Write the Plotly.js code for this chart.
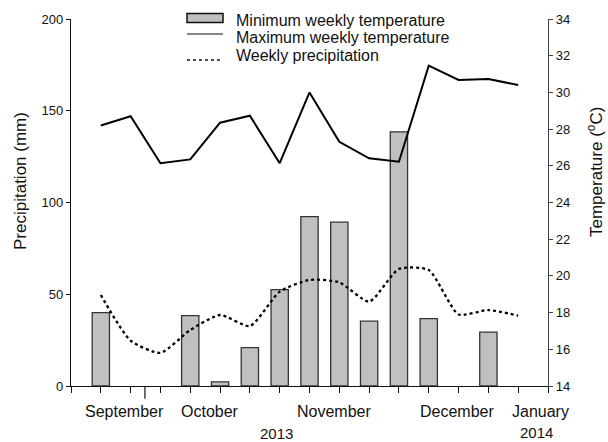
<!DOCTYPE html>
<html>
<head>
<meta charset="utf-8">
<script src="https://cdn.plot.ly/plotly-3.0.1.min.js"></script>
<style>html,body{margin:0;padding:0;background:#fff;}#chart{width:608px;height:442px;}</style>
</head>
<body>
<div id="chart"></div>
<script>
// ---- data ----
const weeks = [1, 2, 3, 4, 5, 6, 7, 8, 9, 10, 11, 12, 13, 14, 15];
const minWeeklyTemp = [40, null, null, 38.3, 2.2, 20.9, 52.5, 92.3, 89.3, 35.3, 138.5, 36.7, null, 29.4, null]; // bars, left axis
const maxWeeklyTemp = [28.2, 28.7, 26.14, 26.35, 28.35, 28.73, 26.14, 30.0, 27.31, 26.41, 26.22, 31.46, 30.68, 30.73, 30.4];
const weeklyPrecip = [18.96, 16.47, 15.81, 17.05, 17.87, 17.27, 19.14, 19.78, 19.65, 18.6, 20.38, 20.32, 17.9, 18.14, 17.83];
const seriesNames = ['Minimum weekly temperature', 'Maximum weekly temperature', 'Weekly precipitation'];
const monthLabels = ['September', 'October', 'November', 'December', 'January'];
const yearLabels = ['2013', '2014'];
const weekTicks = [0, 1, 2, 3, 4, 5, 6, 7, 8, 9, 10, 11, 12, 13, 14, 15, 16];
const leftTicks = [0, 50, 100, 150, 200];
const rightTicks = [14, 16, 18, 20, 22, 24, 26, 28, 30, 32, 34];
const leftTitle = 'Precipitation (mm)';
const rightTitle = 'Temperature (<sup>o</sup>C)';

// ---- layout constants (positions / styles) ----
const monthPos = [1.81, 4.66, 8.83, 12.95, 15.74];
const yearPos = [6.88, 15.6];
const boundaryTick = 2.48;
const FONT = 'Arial, "Liberation Sans", Helvetica, sans-serif';
const PL = 71, PT = 19, PW = 477, PH = 367;   // plot area in pixels
const px = v => (v - PL) / PW;                 // pixel x -> paper
const py = v => (PT + PH - v) / PH;            // pixel y -> paper

const traces = [
  {
    type: 'bar', x: weeks, y: minWeeklyTemp, name: seriesNames[0], yaxis: 'y',
    width: 0.58,
    marker: {color: '#c0c0c0', line: {color: '#333333', width: 1.3}}
  },
  {
    type: 'scatter', mode: 'lines', x: weeks, y: maxWeeklyTemp, name: seriesNames[1], yaxis: 'y2',
    line: {color: '#000000', width: 2}
  },
  {
    type: 'scatter', mode: 'lines', x: weeks, y: weeklyPrecip, name: seriesNames[2], yaxis: 'y2',
    line: {color: '#000000', width: 2.3, dash: 'dot', shape: 'spline', smoothing: 0.6}
  }
];

const txtFont = {family: FONT, size: 16, color: '#111'};
const annotations = monthLabels.map((t, i) => ({
  text: t, x: monthPos[i], xref: 'x', y: py(411), yref: 'paper',
  yanchor: 'middle', showarrow: false, font: txtFont
}));
annotations.push({
  text: yearLabels[0], x: yearPos[0], xref: 'x', y: py(433), yref: 'paper',
  yanchor: 'middle', showarrow: false, font: {family: FONT, size: 15, color: '#111'}
});
annotations.push({
  text: yearLabels[1], x: yearPos[1], xref: 'x', y: py(432), yref: 'paper',
  yanchor: 'middle', showarrow: false, font: {family: FONT, size: 15, color: '#111'}
});
// axis titles
annotations.push({
  text: leftTitle, x: px(20), xref: 'paper', y: py(181), yref: 'paper',
  xanchor: 'center', yanchor: 'middle', textangle: -90, showarrow: false,
  font: {family: FONT, size: 17, color: '#111'}
});
annotations.push({
  text: rightTitle, x: px(595), xref: 'paper', y: py(172), yref: 'paper',
  xanchor: 'center', yanchor: 'middle', textangle: -90, showarrow: false,
  font: {family: FONT, size: 17, color: '#111'}
});
// legend texts
const legY = [20, 37.5, 55.5];
seriesNames.forEach((n, i) => annotations.push({
  text: n, x: px(234), xref: 'paper', y: py(legY[i]), yref: 'paper',
  xanchor: 'left', yanchor: 'middle', showarrow: false, font: txtFont
}));

const shapes = [
  {type: 'line', xref: 'x', yref: 'paper', x0: boundaryTick, x1: boundaryTick,
   y0: 0, y1: -0.035, line: {color: '#111', width: 1.2}},
  // legend symbols
  {type: 'rect', xref: 'paper', yref: 'paper', x0: px(187), x1: px(223), y0: py(13.5), y1: py(22.5),
   fillcolor: '#c0c0c0', line: {color: '#111', width: 1.5}},
  {type: 'line', xref: 'paper', yref: 'paper', x0: px(187), x1: px(223), y0: py(34), y1: py(34),
   line: {color: '#111', width: 1.2}},
  {type: 'line', xref: 'paper', yref: 'paper', x0: px(187), x1: px(223), y0: py(60), y1: py(60),
   line: {color: '#111', width: 1.5, dash: 'dot'}}
];

const layout = {
  width: 608, height: 442,
  margin: {l: 71, r: 60, t: 19, b: 56},
  paper_bgcolor: '#fff', plot_bgcolor: '#fff',
  font: {family: FONT, color: '#111'},
  showlegend: false,
  bargap: 0,
  xaxis: {
    range: [0, 16], tickvals: weekTicks, showticklabels: false,
    ticks: 'outside', ticklen: 6, tickcolor: '#111', tickwidth: 1,
    showline: true, linecolor: '#111', linewidth: 1.3,
    showgrid: false, zeroline: false, fixedrange: true
  },
  yaxis: {
    range: [0, 200], tickvals: leftTicks,
    ticks: 'outside', ticklen: 4, tickcolor: '#111', tickwidth: 1,
    showline: true, linecolor: '#111', linewidth: 1.2,
    showgrid: false, zeroline: false,
    tickfont: {family: FONT, size: 13, color: '#111'}
  },
  yaxis2: {
    range: [14, 34], tickvals: rightTicks, overlaying: 'y', side: 'right',
    ticks: 'outside', ticklen: 4, tickcolor: '#444', tickwidth: 1,
    showline: true, linecolor: '#444', linewidth: 1.2,
    showgrid: false, zeroline: false,
    tickfont: {family: FONT, size: 13, color: '#111'}
  },
  shapes: shapes,
  annotations: annotations
};

Plotly.newPlot('chart', traces, layout, {displayModeBar: false, staticPlot: true});
</script>
</body>
</html>
